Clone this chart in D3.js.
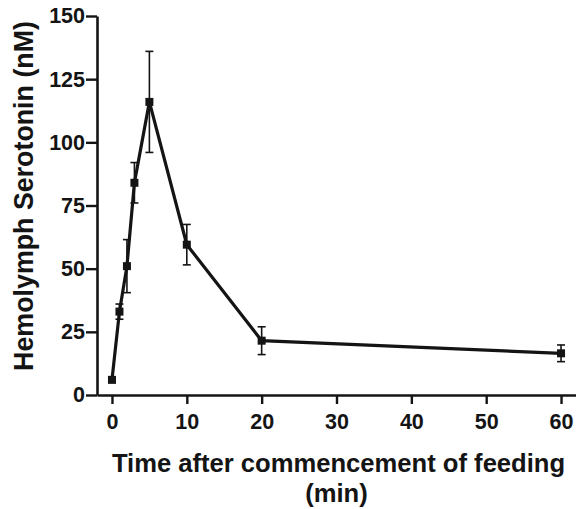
<!DOCTYPE html>
<html>
<head>
<meta charset="utf-8">
<script src="https://cdn.jsdelivr.net/npm/d3@7"></script>
<style>
  html, body { margin: 0; padding: 0; background: #fff; }
  svg { display: block; }
  text { font-family: "Liberation Sans", Arial, sans-serif; font-weight: bold; fill: #141414; }
</style>
</head>
<body>
<div id="chart"></div>
<script>
  // time after commencement of feeding (min)
  const times = [0, 1, 2, 3, 5, 10, 20, 60];
  // hemolymph serotonin (nM), mean and error
  const means = [6, 33, 51, 84, 116, 59.5, 21.5, 16.5];
  const errs = [1, 3, 10.5, 8, 20, 8, 5.5, 3.3];

  const xTicks = [0, 10, 20, 30, 40, 50, 60];
  const yTicks = [0, 25, 50, 75, 100, 125, 150];

  const [width, height] = [576, 509];
  const margin = { top: 16, right: 0, bottom: 114, left: 97 };

  const x = d3.scaleLinear()
    .domain([-2, 62])
    .range([margin.left, width - margin.right]);

  const y = d3.scaleLinear()
    .domain([0, 150])
    .range([height - margin.bottom, margin.top]);

  const data = times.map((t, i) => ({ t: t, m: means[i], e: errs[i] }));

  const svg = d3.select("#chart")
    .append("svg")
    .attr("width", width)
    .attr("height", height);

  // axes
  const xAxis = svg.append("g")
    .attr("transform", `translate(0,${y(0)})`)
    .call(d3.axisBottom(x).tickValues(xTicks).tickSize(9).tickPadding(10).tickSizeOuter(0));

  const yAxis = svg.append("g")
    .attr("transform", `translate(${x(-2)},0)`)
    .call(d3.axisLeft(y).tickValues(yTicks).tickSize(11).tickPadding(1).tickSizeOuter(0));

  [xAxis, yAxis].forEach(g => {
    g.attr("font-size", null).attr("font-family", null);
    g.select(".domain").attr("stroke", "#141414").attr("stroke-width", 2.6);
    g.selectAll(".tick line").attr("stroke", "#141414").attr("stroke-width", 2.4);
    g.selectAll(".tick text")
      .style("font-size", "21.5px")
      .attr("fill", "#141414");
  });

  // error bars
  const eb = svg.append("g")
    .attr("stroke", "#141414")
    .attr("stroke-width", 1.6);

  eb.selectAll("line.bar")
    .data(data)
    .enter().append("line")
    .attr("class", "bar")
    .attr("x1", d => x(d.t))
    .attr("x2", d => x(d.t))
    .attr("y1", d => y(d.m - d.e))
    .attr("y2", d => y(d.m + d.e));

  eb.selectAll("line.capTop")
    .data(data)
    .enter().append("line")
    .attr("class", "capTop")
    .attr("x1", d => x(d.t) - 4)
    .attr("x2", d => x(d.t) + 4)
    .attr("y1", d => y(d.m + d.e))
    .attr("y2", d => y(d.m + d.e));

  eb.selectAll("line.capBot")
    .data(data)
    .enter().append("line")
    .attr("class", "capBot")
    .attr("x1", d => x(d.t) - 4)
    .attr("x2", d => x(d.t) + 4)
    .attr("y1", d => y(d.m - d.e))
    .attr("y2", d => y(d.m - d.e));

  // line
  const line = d3.line()
    .x(d => x(d.t))
    .y(d => y(d.m));

  svg.append("path")
    .datum(data)
    .attr("d", line)
    .attr("fill", "none")
    .attr("stroke", "#141414")
    .attr("stroke-width", 3.2)
    .attr("stroke-linejoin", "miter");

  // square markers
  svg.selectAll("rect.pt")
    .data(data)
    .enter().append("rect")
    .attr("class", "pt")
    .attr("x", d => x(d.t) - 4)
    .attr("y", d => y(d.m) - 4)
    .attr("width", 8)
    .attr("height", 8)
    .attr("fill", "#141414");

  // axis titles
  const midX = (x.range()[0] + x.range()[1]) / 2;
  svg.append("text")
    .attr("x", midX + 2)
    .attr("y", 472)
    .attr("text-anchor", "middle")
    .style("font-size", "25.6px")
    .text("Time after commencement of feeding");

  svg.append("text")
    .attr("x", midX)
    .attr("y", 502)
    .attr("text-anchor", "middle")
    .style("font-size", "25.6px")
    .text("(min)");

  svg.append("text")
    .attr("transform", "translate(33,196) rotate(-90)")
    .attr("text-anchor", "middle")
    .style("font-size", "26.8px")
    .text("Hemolymph Serotonin (nM)");
</script>
</body>
</html>
